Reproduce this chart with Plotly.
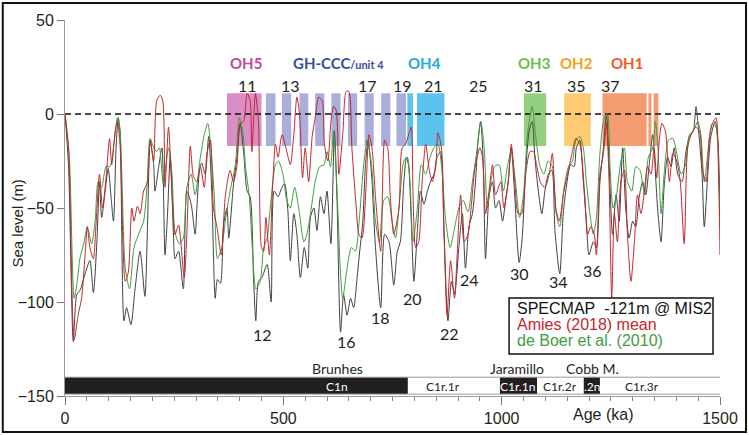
import plotly.graph_objects as go

# ---------------- data ----------------
specmap_age = [0, 8, 19, 27, 34, 46, 57, 65, 73, 79, 84, 92, 99, 105, 111, 117, 122, 126, 135, 141, 151, 160, 172, 183, 189, 195, 203, 206, 214, 222, 229, 235, 241, 248, 252, 260, 271, 279, 289, 298, 302, 308, 313, 321, 329, 336, 344, 349, 356, 363, 371,
               375, 386, 394, 401, 409, 417, 424, 432, 437, 443, 451, 463, 472, 479, 488, 495, 503, 510, 516, 524, 531, 539, 548, 556, 562, 570, 577, 585, 593, 600, 609, 617, 623, 631, 638, 646, 654, 661, 669, 674, 682, 688, 694, 702, 711, 723, 732, 742,
               753, 761, 768, 776, 782, 787, 793, 799, 807, 814, 822, 830, 837, 845, 852, 860, 868, 877, 885, 892, 902, 910, 917, 925, 933, 940, 946, 952, 958, 963, 971, 979, 986, 994, 1002, 1009, 1015, 1022, 1030, 1040, 1047, 1055, 1063, 1070, 1076, 1084, 1092, 1099, 1107, 1115, 1122,
               1133, 1141, 1148, 1158, 1166, 1171, 1179, 1187, 1194, 1200, 1210, 1217, 1225, 1233, 1240, 1246, 1254, 1262, 1269, 1277, 1284, 1292, 1300, 1307, 1315, 1323, 1330, 1338, 1346, 1351, 1357, 1365, 1372, 1380, 1388, 1395, 1403, 1413, 1422, 1430, 1439, 1445, 1451, 1459, 1464, 1472, 1479, 1489, 1496, 1500]
specmap_sl = [0, -27, -121, -96, -94, -85, -78, -95, -68, -36, -55, -41, -29, -43, -57, -18, -2, -9, -110, -103, -112, -94, -73, -97, -59, -14, -27, -41, -29, -18, -75, -52, -22, -62, -77, -73, -93, -41, -48, -64, -50, -30, -26, -32, -12, -41, -98, -88, -90, -59, -50,
              -66, -37, -23, -5, -20, -41, -44, -89, -110, -89, -87, -80, -100, -41, -44, -40, -37, -50, -78, -53, -64, -87, -71, -82, -55, -50, -62, -44, -53, -41, -69, -9, -46, -116, -96, -107, -98, -103, -87, -75, -57, -27, -14, -32, -71, -103, -64, -68,
              -91, -73, -68, -36, -23, -28, -57, -89, -62, -41, -48, -41, -36, -32, -23, -20, -64, -110, -89, -96, -71, -53, -82, -60, -53, -36, -14, -4, -27, -77, -44, -36, -50, -46, -57, -46, -36, -18, -44, -79, -66, -30, -9, -4, -23, -41, -53, -41, -32, -30, -62,
              -85, -53, -39, -27, -28, -18, -14, -36, -57, -75, -68, -71, -36, -18, 0, -27, -64, -43, -57, -18, -50, -66, -57, -60, -44, -36, -43, -27, -11, -27, -50, -68, -39, -23, -28, -18, -32, -36, -20, -12, -9, 4, -9, -32, -60, -32, -12, -4, -18, -55]

amies_age = [0, 8, 21, 30, 38, 46, 51, 57, 65, 71, 79, 86, 94, 102, 107, 115, 120, 126, 138, 145, 153, 158, 166, 172, 180, 189, 195, 203, 210, 218, 224, 229, 237, 245, 252, 260, 273, 279, 287, 294, 302, 310, 319, 325, 333, 340, 348, 358, 367,
             378, 386, 394, 401, 409, 417, 424, 428, 436, 443, 450, 455, 460, 468, 476, 482, 488, 497, 508, 516, 524, 531, 537, 544, 550, 558, 566, 573, 581, 589, 594, 602, 609, 615, 621, 627, 636, 644, 650, 657, 667, 673, 680, 690, 696, 703, 711, 723, 732, 739, 745,
             753, 765, 772, 780, 787, 793, 797, 803, 810, 818, 826, 833, 841, 849, 854, 862, 868, 875, 883, 892, 898, 906, 914, 923, 930, 938, 944, 950, 956, 963, 971, 979, 986, 998, 1005, 1015, 1022, 1030, 1038, 1046, 1055, 1065, 1073, 1080, 1090, 1099, 1109, 1116, 1124,
             1132, 1141, 1151, 1161, 1170, 1179, 1189, 1197, 1204, 1212, 1217, 1225, 1233, 1240, 1246, 1252, 1258, 1265, 1273, 1281, 1288, 1296, 1304, 1311, 1319, 1327, 1334, 1342, 1349, 1355, 1361, 1367, 1375, 1384, 1392, 1401, 1409, 1418, 1426, 1434, 1444, 1453, 1460, 1468, 1476, 1483, 1491, 1497, 1500]
amies_sl = [0, -18, -120, -107, -98, -75, -60, -71, -77, -59, -32, -50, -34, -13, -27, -9, -4, -16, -89, -84, -50, -57, -49, -53, -41, -36, -14, -25, 7, 10, 7, -39, -7, -41, -64, -59, -87, -64, -17, -33, -36, -28, -39, -21, -14, -50, -60, -75, -44,
            -30, -36, -27, -5, -4, 11, 7, -20, 11, -4, -71, -73, -55, -75, -36, -16, -23, -11, -20, -27, -11, 9, 0, -34, -18, -36, -12, -2, 9, 7, -16, -25, -4, 4, 2, -32, -11, 12, 12, -18, -50, -64, -66, -36, -11, -18, -44, -73, -14, -18, -44,
            -64, -50, -18, -16, -11, -7, -43, -71, -68, -36, -16, -28, -36, -28, -10, -18, -62, -107, -78, -98, -75, -43, -68, -64, -50, -30, -23, -18, -23, -53, -41, -27, -43, -36, -50, -36, -16, -36, -53, -53, -32, -20, -20, -27, -37, -39, -32, -21, -50,
            -57, -43, -32, -21, -13, -16, -39, -64, -60, -64, -75, -32, -21, -5, -36, -98, -53, -68, -36, -30, -64, -89, -68, -43, -53, -41, -28, -32, -18, -34, -14, -5, -9, -36, -21, -25, -36, -69, -18, -11, -7, -9, -30, -36, -12, -5, -2, -36, -75]

deboer_age = [0, 10, 21, 28, 34, 44, 51, 61, 69, 76, 84, 94, 103, 113, 120, 126, 138, 148, 158, 170, 180, 187, 195, 203, 210, 216, 225, 237, 245, 252, 262, 271, 279, 289, 298, 310, 319, 327, 334, 342, 349, 359, 367,
              378, 390, 399, 407, 413, 422, 430, 437, 447, 455, 463, 470, 482, 489, 499, 508, 516, 526, 537, 547, 554, 564, 573, 583, 593, 600, 608, 615, 623, 631, 636, 646, 656, 665, 675, 684, 692, 702, 711, 720, 730, 739, 749,
              757, 767, 776, 784, 790, 797, 807, 816, 826, 836, 845, 854, 862, 872, 882, 891, 902, 912, 923, 933, 943, 952, 960, 967, 975, 984, 994, 1004, 1013, 1022, 1032, 1041, 1050, 1059, 1070, 1078, 1088, 1097, 1106, 1116, 1125,
              1133, 1143, 1153, 1162, 1170, 1179, 1187, 1194, 1202, 1210, 1217, 1225, 1235, 1242, 1248, 1255, 1263, 1273, 1281, 1288, 1298, 1307, 1317, 1327, 1336, 1346, 1352, 1358, 1365, 1372, 1382, 1392, 1401, 1411, 1421, 1430, 1439, 1449, 1456, 1464, 1472, 1482, 1491, 1497, 1500]
deboer_sl = [0, -23, -98, -89, -77, -68, -60, -69, -57, -36, -39, -28, -28, -14, -2, -9, -82, -93, -71, -63, -57, -41, -13, -18, -20, -18, -37, -18, -32, -63, -69, -66, -39, -32, -43, -23, -11, -5, -18, -44, -77, -71, -57,
             -41, -27, -2, -9, -27, -44, -75, -93, -89, -71, -66, -50, -27, -25, -32, -46, -50, -39, -53, -68, -64, -50, -36, -28, -27, -20, -28, -9, -41, -85, -98, -82, -71, -73, -53, -27, -14, -27, -57, -68, -46, -44, -57,
             -66, -44, -25, -23, -36, -68, -50, -27, -32, -23, -18, -16, -27, -57, -71, -62, -50, -46, -52, -36, -20, -4, -18, -50, -36, -28, -27, -41, -28, -20, -37, -55, -43, -11, 4, -12, -28, -32, -25, -28, -53,
             -60, -39, -28, -25, -14, -12, -18, -36, -53, -64, -55, -21, -2, 0, -27, -50, -43, -25, -18, -36, -41, -28, -30, -43, -23, -18, -4, -18, -53, -32, -14, -13, -21, -32, -27, -11, -9, -4, -11, -36, -21, -5, -7, -32, -55]

# hominin occupation / interglacial boxes (ka)
box_start = [371, 460, 497, 537, 573, 610, 648, 686, 724, 759, 784, 806, 1051, 1143, 1231, 1336, 1348]
box_end = [450, 482, 518, 557, 594, 631, 669, 707, 745, 781, 797, 869, 1102, 1204, 1332, 1343, 1359]
box_group = ["OH5", "GH", "GH", "GH", "GH", "GH", "GH", "GH", "GH", "GH", "OH4", "OH4", "OH3", "OH2", "OH1", "OH1", "OH1"]
box_low, box_high = -17, 11

group_labels = ["OH5", "GH-CCC", "OH4", "OH3", "OH2", "OH1"]
group_label_age = [414, 517, 824, 1074, 1172, 1287]

mis_top = ["11", "13", "17", "19", "21", "25", "31", "35", "37"]
mis_top_age = [419, 517, 692, 774, 843, 946, 1074, 1172, 1250]
mis_low = ["12", "16", "18", "20", "22", "24", "30", "34", "36"]
mis_low_age = [452, 645, 723, 795, 880, 927, 1040, 1129, 1207]
mis_low_sl = [-117.5, -121, -108, -98, -117, -88, -85, -89, -83.5]

# magnetostratigraphy (normal polarity chrons, ka)
chron_norm_start = [0, 996, 1188]
chron_norm_end = [785, 1081, 1225]
chron_labels = ["C1n", "C1r.1r", "C1r.1n", "C1r.2r", ".2n", "C1r.3r"]
chron_label_age = [623, 866, 1037, 1133, 1207, 1321]
chron_label_normal = [True, False, True, False, True, False]
chron_names = ["Brunhes", "Jaramillo", "Cobb M."]
chron_name_age = [625, 1035, 1207]

# ---------------- styles ----------------
group_fill = {"OH5": "#d98fc6", "GH": "#a9aedb", "OH4": "#5cc3ee", "OH3": "#95cf7f",
              "OH2": "#fecb72", "OH1": "#f59b72"}
label_color = {"OH5": "#c4489c", "GH-CCC": "#3a4aa0", "OH4": "#25a9e0", "OH3": "#6cbd4c",
               "OH2": "#f7a11a", "OH1": "#f05a28"}
C_BLACK = "#404040"
C_RED = "#c4262e"
C_GREEN = "#3d9e3d"
TXT = "#231f20"
FONT_A = "Liberation Sans, Arial"

fig = go.Figure()
fig.add_trace(go.Scatter(x=specmap_age, y=specmap_sl, mode="lines",
                         line=dict(color=C_BLACK, width=1, shape="spline", smoothing=0.7)))
fig.add_trace(go.Scatter(x=deboer_age, y=deboer_sl, mode="lines",
                         line=dict(color=C_GREEN, width=1, shape="spline", smoothing=0.7)))
fig.add_trace(go.Scatter(x=amies_age, y=amies_sl, mode="lines",
                         line=dict(color=C_RED, width=1, shape="spline", smoothing=0.7)))

shapes = []
for s, e, g in zip(box_start, box_end, box_group):
    shapes.append(dict(type="rect", xref="x", yref="y", x0=s, x1=e, y0=box_low, y1=box_high,
                       fillcolor=group_fill[g], line=dict(width=0), layer="below"))
# dashed zero line
shapes.append(dict(type="line", xref="x", yref="y", x0=0, x1=1500, y0=0, y1=0,
                   line=dict(color="#111", width=1.5, dash="6px,4px"), layer="below"))
# magnetostratigraphy bar
for s, e in zip(chron_norm_start, chron_norm_end):
    shapes.append(dict(type="rect", xref="x", yref="y", x0=s, x1=e, y0=-149, y1=-140,
                       fillcolor="#231f20", line=dict(width=0), layer="above"))
for yv in (-140, -149):
    shapes.append(dict(type="line", xref="x", yref="y", x0=0, x1=1500, y0=yv, y1=yv,
                       line=dict(color="#9a9a9a", width=1), layer="above"))
# legend box
shapes.append(dict(type="rect", xref="x", yref="y", x0=1017, x1=1484, y0=-127.7, y1=-97.9,
                   fillcolor="white", line=dict(color="#111", width=1.5), layer="above"))
# outer frame
shapes.append(dict(type="rect", xref="paper", yref="paper", x0=-0.095, x1=1.0397,
                   y0=-0.0957, y1=1.0452, line=dict(color="#111", width=2), fillcolor="rgba(0,0,0,0)"))

ann = []
for t, a in zip(group_labels, group_label_age):
    if t == "GH-CCC":
        ann.append(dict(x=a, y=27.1, xref="x", yref="y", xanchor="left", yanchor="middle",
                        text="GH-CCC<span style='font-size:11px'>/unit 4</span>", showarrow=False,
                        font=dict(family="Lato", size=15, color=label_color[t], weight="bold")))
    else:
        ann.append(dict(x=a, y=27.1, xref="x", yref="y", text=t, showarrow=False,
                        font=dict(family="Lato", size=15, color=label_color[t], weight="bold")))
for t, a in zip(mis_top, mis_top_age):
    ann.append(dict(x=a, y=15.4, xref="x", yref="y", text=t, showarrow=False,
                    font=dict(family="Lato", size=16, color=TXT)))
for t, a, v in zip(mis_low, mis_low_age, mis_low_sl):
    ann.append(dict(x=a, y=v, xref="x", yref="y", text=t, showarrow=False,
                    font=dict(family="Lato", size=16, color=TXT)))
for t, a, n in zip(chron_labels, chron_label_age, chron_label_normal):
    ann.append(dict(x=a, y=-144.8, xref="x", yref="y", text=t, showarrow=False,
                    font=dict(family="Lato", size=12, color="white" if n else TXT)))
for t, a in zip(chron_names, chron_name_age):
    ann.append(dict(x=a, y=-135.6, xref="x", yref="y", text=t, showarrow=False,
                    font=dict(family="Lato", size=14, color=TXT)))
legend_lines = [("SPECMAP  -121m @ MIS2", "#111"), ("Amies (2018) mean", C_RED),
                ("de Boer et al. (2010)", C_GREEN)]
for i, (t, c) in enumerate(legend_lines):
    ann.append(dict(x=1030, y=-103.7 - 8.3 * i, xref="x", yref="y", xanchor="left",
                    text=t.replace("  ", "&nbsp; "), showarrow=False,
                    font=dict(family=FONT_A, size=16, color=c)))
ann.append(dict(x=-0.0725, y=-58.5, xref="paper", yref="y", text="Sea level (m)", textangle=-90,
                xanchor="center", yanchor="middle",
                showarrow=False, font=dict(family=FONT_A, size=15, color=TXT)))
ann.append(dict(x=1232, y=-0.05, xref="x", yref="paper", text="Age (ka)", yanchor="middle",
                showarrow=False, font=dict(family=FONT_A, size=16, color=TXT)))

fig.update_layout(
    width=749, height=435, autosize=False,
    margin=dict(l=65, r=29, t=20, b=39, autoexpand=False),
    plot_bgcolor="white", paper_bgcolor="white", showlegend=False,
    shapes=shapes, annotations=ann,
    xaxis=dict(range=[0, 1500], tickvals=[0, 500, 1000, 1500],
               ticks="outside", ticklen=8, tickcolor="#777", showline=True, linecolor="#999",
               linewidth=1, showgrid=False, zeroline=False, automargin=False,
               tickfont=dict(family=FONT_A, size=16, color=TXT),
               minor=dict(dtick=50, ticks="outside", ticklen=4, tickcolor="#888")),
    yaxis=dict(range=[-150, 50], tickvals=[50, 0, -50, -100, -150], ticks="outside", ticklen=7,
               tickcolor="#777", showline=True, linecolor="#999", linewidth=1, showgrid=False,
               zeroline=False, automargin=False,
               tickfont=dict(family=FONT_A, size=16, color=TXT)),
)

fig.write_html("out.html", config={"displayModeBar": False},
               post_script="document.body.style.margin='0';document.body.style.padding='0';")
